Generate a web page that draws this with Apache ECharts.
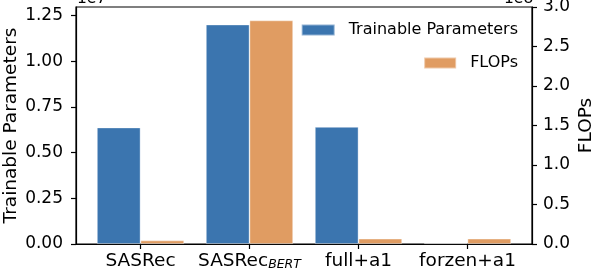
<!DOCTYPE html>
<html><head><meta charset="utf-8">
<script src="https://cdn.jsdelivr.net/npm/echarts@6/dist/echarts.min.js"></script>
<style>html,body{margin:0;padding:0;background:#fff}#c{width:598px;height:274px}</style>
</head><body><div id="c"></div>
<script>
const categories = ['SASRec', 'SASRec_BERT', 'full+a1', 'forzen+a1'];
const trainableParams = [6.37e6, 1.20e7, 6.40e6, 0.05e6];
const flops = [4.5e6, 2.83e8, 6.7e6, 6.7e6];
const leftTicks = [0, 2.5e6, 5e6, 7.5e6, 1e7, 1.25e7];
const rightTicks = [0, 0.5e8, 1e8, 1.5e8, 2e8, 2.5e8, 3e8];
const xTicks = [0, 1, 2, 3];

const FONT = 'DejaVu Sans';
const BLUE = '#3b75af', ORANGE = '#e09c62';
const chart = echarts.init(document.getElementById('c'), null, {renderer: 'canvas'});

function xLabel(v) {
  const c = categories[Math.round(v)];
  if (c === undefined) return '';
  if (c.indexOf('_') >= 0) {
    const p = c.split('_');
    return '{a|' + p[0] + '}{s|' + p[1] + '}';
  }
  return '{a|' + c + '}';
}

chart.setOption({
  animation: false,
  backgroundColor: '#fff',
  textStyle: {fontFamily: FONT},
  grid: {left: 76, right: 66, top: 7, bottom: 30, outerBoundsMode: 'none', containLabel: false,
         show: true, borderColor: '#000', borderWidth: 1.2, backgroundColor: 'transparent'},
  legend: [
    {data: ['Trainable Parameters'], right: 75, top: 17, icon: 'rect', itemWidth: 33, itemHeight: 11,
     textStyle: {fontFamily: FONT, fontSize: 16, color: '#000', padding: [0, 0, 0, 9]}},
    {data: ['FLOPs'], right: 75, top: 50, icon: 'rect', itemWidth: 32, itemHeight: 11,
     textStyle: {fontFamily: FONT, fontSize: 16, color: '#000', padding: [0, 0, 0, 9]}}
  ],
  xAxis: {
    type: 'value', min: -0.592, max: 3.592,
    splitLine: {show: false},
    axisLine: {show: true, onZero: false, lineStyle: {color: '#000', width: 1.2}},
    axisTick: {show: true, customValues: xTicks, length: 5, lineStyle: {color: '#000', width: 1.2}},
    axisLabel: {customValues: xTicks, formatter: xLabel, margin: 8, color: '#000',
      rich: {a: {fontFamily: FONT, fontSize: 18.5, color: '#000'},
             s: {fontFamily: FONT, fontSize: 12.5, fontStyle: 'italic', color: '#000', verticalAlign: 'bottom', padding: [6, 0, 0, 0]}}}
  },
  yAxis: [
    {type: 'value', min: 0, max: 1.296e7, position: 'left',
     name: 'Trainable Parameters', nameLocation: 'middle', nameGap: 55, nameRotate: 90, nameMoveOverlap: false,
     nameTextStyle: {fontFamily: FONT, fontSize: 18.5, color: '#000'},
     splitLine: {show: false},
     axisLine: {show: true, onZero: false, lineStyle: {color: '#000', width: 1.2}},
     axisTick: {show: true, customValues: leftTicks, length: 5, lineStyle: {color: '#000', width: 1.2}},
     axisLabel: {customValues: leftTicks, margin: 13, fontSize: 17, color: '#000', fontFamily: FONT,
       formatter: v => (v / 1e7).toFixed(2)}},
    {type: 'value', min: 0, max: 3e8, position: 'right',
     name: 'FLOPs', nameLocation: 'middle', nameGap: 45, nameRotate: 90, nameMoveOverlap: false,
     nameTextStyle: {fontFamily: FONT, fontSize: 18.5, color: '#000'},
     splitLine: {show: false},
     axisLine: {show: true, onZero: false, lineStyle: {color: '#000', width: 1.2}},
     axisTick: {show: true, customValues: rightTicks, length: 5, lineStyle: {color: '#000', width: 1.2}},
     axisLabel: {customValues: rightTicks, margin: 11, fontSize: 17, color: '#000', fontFamily: FONT,
       formatter: v => (v / 1e8).toFixed(1)}}
  ],
  series: [
    {name: 'Trainable Parameters', type: 'bar', yAxisIndex: 0, barWidth: 43.6, barGap: '0%',
     itemStyle: {color: BLUE, borderColor: 'rgba(255,255,255,0.45)', borderWidth: 0.8},
     data: trainableParams.map((v, i) => [i, v])},
    {name: 'FLOPs', type: 'bar', yAxisIndex: 1, barWidth: 43.6, barGap: '0%',
     itemStyle: {color: ORANGE, borderColor: 'rgba(255,255,255,0.45)', borderWidth: 0.8},
     data: flops.map((v, i) => [i, v])}
  ],
  graphic: [
    {type: 'text', x: 77, y: -9, z: 100, style: {text: '1e7', fontFamily: FONT, fontSize: 15.5, fill: '#000'}},
    {type: 'text', x: 504, y: -9, z: 100, style: {text: '1e8', fontFamily: FONT, fontSize: 15.5, fill: '#000'}}
  ]
});
</script></body></html>
